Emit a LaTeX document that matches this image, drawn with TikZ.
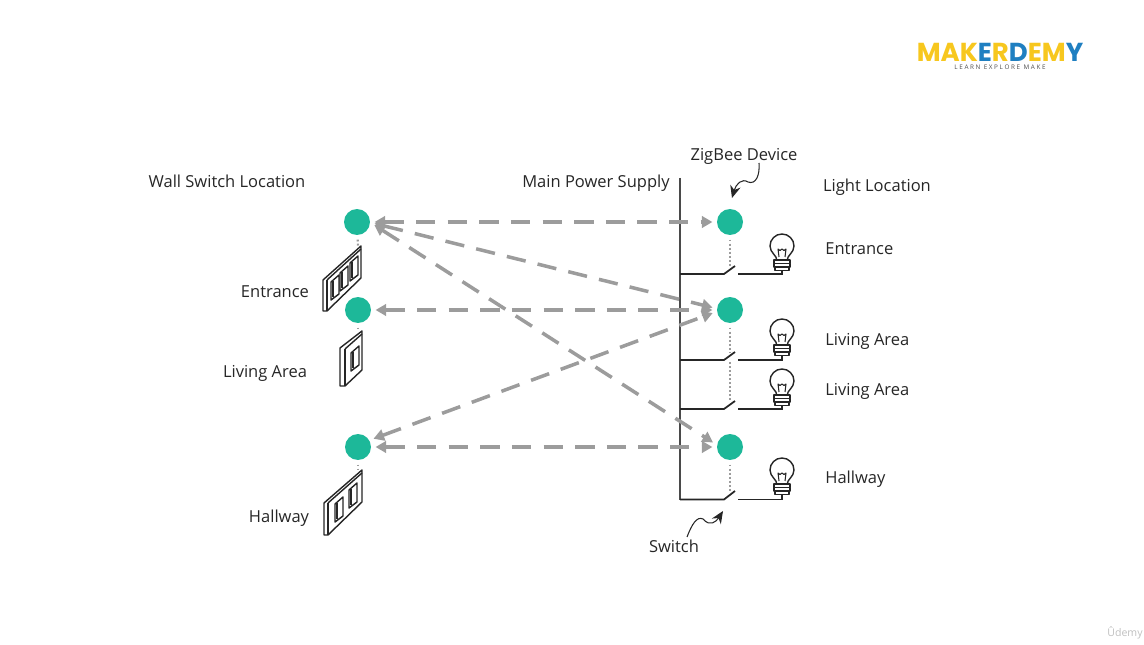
\documentclass[tikz,border=0pt]{standalone}
\usepackage{fontspec}
\setmainfont{Open Sans}
\newfontfamily\logofont{Poppins}
\usepackage{tikz}
\usetikzlibrary{arrows.meta,positioning,calc}
\usepackage{xcolor}
\definecolor{zbgreen}{HTML}{1DB899}
\definecolor{linkgrey}{HTML}{9C9C9C}
\definecolor{busgrey}{HTML}{4A4A4A}
\definecolor{logoyellow}{HTML}{F7C71E}
\definecolor{logoblue}{HTML}{1F7FC1}
\tikzset{
  zbnode/.style={circle,fill=zbgreen,minimum size=0.52cm,inner sep=0pt,outer sep=2.6pt},
  label/.style={font=\fontsize{9.4}{11}\selectfont,text=black!85,inner sep=0pt},
  link/.style={{Triangle[length=6pt,width=6.5pt]}-{Triangle[length=6pt,width=6.5pt]},linkgrey,line width=2pt,dash pattern=on 11pt off 7pt},
  dots/.style={linkgrey,line width=1.2pt,dash pattern=on 1.1pt off 1.2pt},
  bus/.style={busgrey,line width=1.6pt},
  wire/.style={black!85,line width=1pt},
  plate/.style={black!85,line width=0.8pt,line join=round},
  rocker/.pic={
    \draw[plate,fill=white] (0,0) -- (8,-7) -- (8,12) -- (0,18) -- cycle;
    \draw[plate,line width=1.2pt] (2.2,-1) -- (2.2,15);
  },
  bulb/.pic={
    \draw[plate] (-5,14) .. controls (-5,8) and (-12,6) .. (-12,-1)
      arc[start angle=180,end angle=360,radius=12] .. controls (12,6) and (5,8) .. (5,14);
    \draw[plate,line width=0.6pt] (-3,10) -- (-4,2) -- (-2,3.5) -- (0,2) -- (2,3.5) -- (4,2) -- (3,10);
    \draw[plate,fill=white] (-8,13) rectangle (8,16.5);
    \draw[plate,fill=white] (-8,16.5) rectangle (8,20);
    \draw[plate,fill=white] (-7,20) rectangle (7,23.5);
  },
  logotop/.style={font=\logofont\bfseries\fontsize{14.8}{15}\selectfont,inner sep=0pt,anchor=base}
}

\begin{document}
\begin{tikzpicture}[x=0.02cm,y=-0.02cm]
  \useasboundingbox (0,0) rectangle (1144,645);

  %% ---- logo ----
  \node[logotop] (logo) at (1000,61.5) {\textcolor{logoyellow}{MAK}\textcolor{logoblue}{E}\textcolor{logoyellow}{R}\textcolor{logoblue}{D}\textcolor{logoyellow}{E}\textcolor{logoyellow}{M}\textcolor{logoblue}{Y}};
  \node[font=\fontsize{3.6}{4}\selectfont,text=black!70,inner sep=0pt,anchor=base] (logosub) at (1000,69.5) {L E A R N \ E X P L O R E \ M A K E};

  %% ---- headings ----
  \node[label] (wallhead) at (227,181) {Wall Switch Location};
  \node[label] (powerhead) at (596,183) {Main Power Supply};
  \node[label] (zbhead) at (744,156) {ZigBee Device};
  \node[label] (lighthead) at (877,187) {Light Location};
  \node[label] (switchhead) at (674,546) {Switch};

  %% ---- wall labels ----
  \node[label] (wallentrance) at (275,292) {Entrance};
  \node[label] (wallliving) at (265,373) {Living Area};
  \node[label] (wallhallway) at (279,518) {Hallway};

  %% ---- light labels ----
  \node[label,anchor=west] (lightentrance) at (825,249) {Entrance};
  \node[label,anchor=west] (lightlivinga) at (825,341) {Living Area};
  \node[label,anchor=west] (lightlivingb) at (825,391) {Living Area};
  \node[label,anchor=west] (lighthallway) at (825,479) {Hallway};

  %% ---- wall plates ----
  \coordinate (plateA) at (358,246);
  \coordinate (plateB) at (358,331);
  \coordinate (plateC) at (358,470);
  \draw[plate,fill=white] (323,280) -- (361,246) -- (361,278) -- (327,311) -- (323,311) -- cycle;
  \draw[plate] (327,280) -- (327,311);
  \draw[plate] (327,280) -- (361,249);
  \pic at (331,282) {rocker};
  \pic at (340,273) {rocker};
  \pic at (350,263) {rocker};
  \draw[plate,fill=white] (340,348) -- (362,331) -- (362,370) -- (345,386) -- (340,386) -- cycle;
  \draw[plate] (345,349) -- (345,386);
  \draw[plate] (345,349) -- (362,334);
  \pic at (351,353) {rocker};
  \draw[plate,fill=white] (324,503) -- (362,470) -- (362,502) -- (328,535) -- (324,535) -- cycle;
  \draw[plate] (328,503) -- (328,535);
  \draw[plate] (328,503) -- (362,473);
  \pic at (335,504) {rocker};
  \pic at (349,490) {rocker};

  %% ---- zigbee nodes ----
  \node[zbnode] (wallA) at (357,222) {};
  \node[zbnode] (wallB) at (358,310) {};
  \node[zbnode] (wallC) at (358,447) {};
  \node[zbnode] (zbA) at (730,222) {};
  \node[zbnode] (zbB) at (730,310) {};
  \node[zbnode] (zbC) at (730,447) {};

  %% ---- main supply and switch branches ----
  \coordinate (busTop) at (680,178);
  \coordinate (busEnd) at (680,500);
  \draw[bus] (busTop) -- (busEnd);
  \coordinate (bladeA) at (735,266);
  \coordinate (bladeB) at (735,352);
  \coordinate (bladeC) at (735,401);
  \coordinate (bladeD) at (735,491);
  \draw[wire] (680,274) -- (724,274) -- (bladeA);
  \draw[wire] (738,274) -- (782,274) -- (782,270);
  \draw[wire] (680,360) -- (724,360) -- (bladeB);
  \draw[wire] (738,360) -- (782,360) -- (782,355);
  \draw[wire] (680,409) -- (724,409) -- (bladeC);
  \draw[wire] (738,409) -- (782,409) -- (782,405);
  \draw[wire] (680,499.5) -- (724,499.5) -- (bladeD);
  \draw[wire] (738,499.5) -- (782,499.5) -- (782,494);
  \pic at (782,247) {bulb};
  \pic at (782,332) {bulb};
  \pic at (782,382) {bulb};
  \pic at (782,471) {bulb};

  %% ---- dotted ties ----
  \draw[dots] (wallA) -- (plateA);
  \draw[dots] (wallB) -- (plateB);
  \draw[dots] (wallC) -- (plateC);
  \draw[dots] (zbA) -- (730,266);
  \draw[dots] (zbB) -- (730,352);
  \draw[dots] (730,362) -- (730,401);
  \draw[dots] (zbC) -- (730,491);

  %% ---- links between wall and light ----
  \draw[link] (wallA) -- (zbA);
  \draw[link] (wallA.-5) -- (zbB.172);
  \draw[link] (wallA.-10) -- (zbC.165);
  \draw[link] (wallB) -- (zbB);
  \draw[link] (wallC.28) -- (zbB.190);
  \draw[link] (wallC) -- (zbC);

  %% ---- callouts ----
  \coordinate (zbtail) at (759,163);
  \coordinate (zbtip) at (732,198);
  \coordinate (swtail) at (687,537);
  \coordinate (swtip) at (723,511);
  \draw[-{Stealth[length=7pt,width=6pt]},black!85,line width=0.6pt] (zbtail)
    .. controls (760,175) and (756,185) .. (748,182)
    .. controls (742,178) and (736,184) .. (zbtip);
  \draw[-{Stealth[length=7pt,width=6pt]},black!85,line width=0.6pt] (swtail)
    .. controls (692,524) and (697,516) .. (703,519)
    .. controls (710,527) and (716,522) .. (swtip);

  %% ---- watermark ----
  \node[font=\fontsize{6}{7}\selectfont,text=black!25,inner sep=0pt] (wmark) at (1125,633) {Ûdemy};
\end{tikzpicture}
\end{document}
